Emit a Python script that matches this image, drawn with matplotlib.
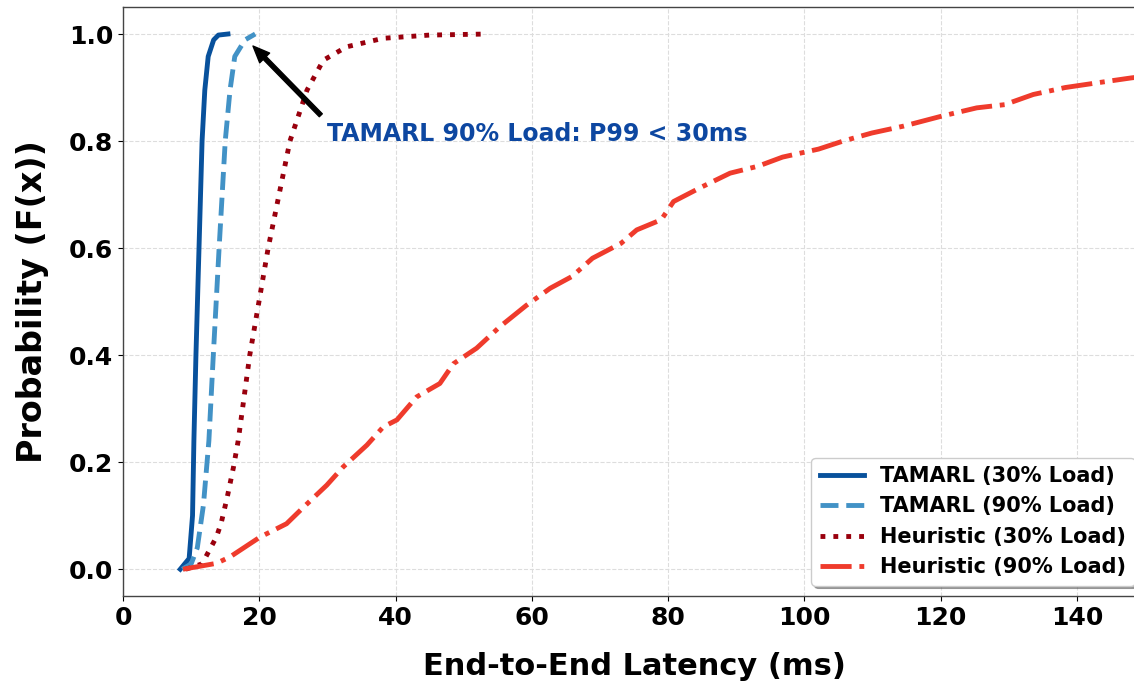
import matplotlib
matplotlib.use("Agg")
import matplotlib.pyplot as plt

# CDF points (latency in ms, cumulative probability)
tamarl30_x = [8.4, 9.7, 10.2, 10.4, 10.7, 11.15, 11.6, 12.0, 12.5, 13.3, 14.0, 15.4]
tamarl30_y = [0.0, 0.02, 0.1, 0.24, 0.4, 0.6, 0.8, 0.895, 0.958, 0.989, 0.998, 1.0]

tamarl90_x = [8.7, 10.0, 10.9, 11.8, 12.6, 13.25, 14.1, 15.0, 15.7, 16.4, 17.9, 19.4]
tamarl90_y = [0.0, 0.01, 0.04, 0.12, 0.24, 0.4, 0.6, 0.8, 0.895, 0.958, 0.989, 1.0]

heur30_x = [9.2, 11.6, 13.7, 14.4, 15.3, 16.2, 16.9, 18.6, 21.3, 24.5, 27.0, 29.4, 32.8, 38.2,
            45.0, 53.6]
heur30_y = [0.0, 0.01, 0.06, 0.086, 0.135, 0.19, 0.24, 0.4, 0.6, 0.8, 0.895, 0.951, 0.976, 0.992,
            0.998, 1.0]

heur90_x = [8.8, 13.7, 15.7, 20.1, 24.0, 26.5, 29.9, 32.3, 35.8, 38.2, 40.2, 43.1, 46.5, 48.5,
            51.9, 55.3, 59.2, 62.7, 65.9, 68.9, 73.1, 75.4, 79.0, 80.8, 84.9, 89.1, 93.2, 96.8,
            102.1, 105.7, 109.9, 114.6, 120.0, 125.3, 129.4, 133.6, 138.3, 143.1, 148.0, 152.0]
heur90_y = [0.0, 0.011, 0.023, 0.060, 0.085, 0.116, 0.157, 0.191, 0.232, 0.266, 0.279, 0.322,
            0.347, 0.384, 0.413, 0.453, 0.493, 0.525, 0.547, 0.581, 0.609, 0.634, 0.653, 0.687,
            0.714, 0.74, 0.753, 0.77, 0.785, 0.80, 0.815, 0.828, 0.846, 0.862, 0.868, 0.887, 0.90,
            0.909, 0.918, 0.924]

labels = ["TAMARL (30% Load)", "TAMARL (90% Load)", "Heuristic (30% Load)", "Heuristic (90% Load)"]

fig = plt.figure(figsize=(11.34, 6.83), dpi=100)
ax = fig.add_axes([0.1085, 0.1274, 0.9012, 0.8620])

ax.plot(tamarl30_x, tamarl30_y, color="#08519c", lw=3.5, ls="-", label=labels[0])
ax.plot(tamarl90_x, tamarl90_y, color="#4292c6", lw=3.5, ls="--", label=labels[1])
ax.plot(heur30_x, heur30_y, color="#99000d", lw=3.5, ls=":", label=labels[2])
ax.plot(heur90_x, heur90_y, color="#ef3b2c", lw=3.5, ls="-.", label=labels[3])

ax.annotate("TAMARL 90% Load: P99 < 30ms", xy=(18.5, 0.985), xytext=(30, 0.8),
            fontsize=17, fontweight="bold", color="#0d47a1",
            arrowprops=dict(facecolor="black", edgecolor="black", shrink=0.05, width=3, headwidth=10))

ax.set_xlim(0, 150)
ax.set_ylim(-0.05, 1.05)
ax.set_xlabel("End-to-End Latency (ms)", fontsize=22, fontweight="bold", labelpad=16)
ax.set_ylabel("Probability (F(x))", fontsize=24, fontweight="bold", labelpad=14)
ax.tick_params(labelsize=18)
for t in ax.get_xticklabels() + ax.get_yticklabels():
    t.set_fontweight("bold")
ax.grid(True, ls="--", color="#dddddd", lw=0.8)
for s in ax.spines.values():
    s.set_color("#444444")
    s.set_linewidth(1.0)

leg = ax.legend(loc="lower right", shadow=True, fancybox=True, framealpha=1, handlelength=2.1,
                prop={"weight": "bold", "size": 15})

fig.savefig("out.png", dpi=100)
